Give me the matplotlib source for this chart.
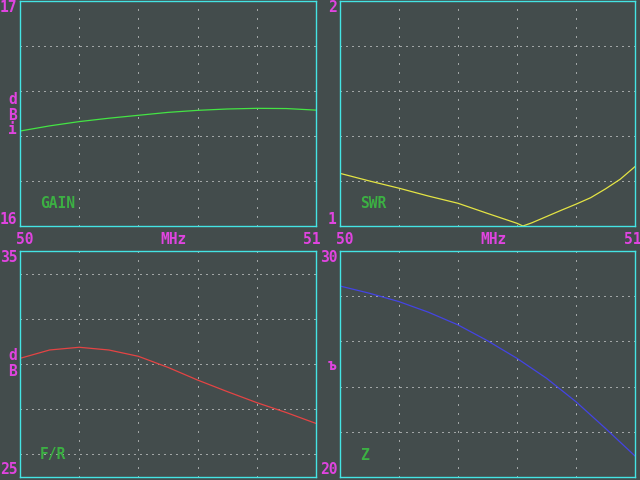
import matplotlib
matplotlib.use('Agg')
import matplotlib.pyplot as plt

# frequency points, MHz
freq = [50.0, 50.1, 50.2, 50.3, 50.4, 50.5, 50.6, 50.7, 50.8, 50.9, 51.0]
gain = [16.422, 16.445, 16.464, 16.479, 16.492, 16.505, 16.514, 16.520, 16.523, 16.522, 16.515]
fr = [30.25, 30.62, 30.74, 30.62, 30.34, 29.85, 29.29, 28.78, 28.29, 27.85, 27.37]
z = [28.45, 28.13, 27.76, 27.29, 26.73, 26.03, 25.25, 24.37, 23.33, 22.15, 20.93]

swr_freq = [50.0, 50.1, 50.2, 50.3, 50.4, 50.5, 50.6, 50.62, 50.65, 50.7, 50.75,
            50.8, 50.85, 50.9, 50.95, 51.0]
swr = [1.234, 1.200, 1.168, 1.133, 1.101, 1.056, 1.012, 1.000, 1.014, 1.042, 1.070,
       1.097, 1.126, 1.165, 1.208, 1.264]

bg = '#434c4c'
cyan = '#44e4e4'
magenta = '#e044e0'
label_green = '#3cb043'
font = 'DejaVu Sans Mono'
fs = 10.5

fig = plt.figure(figsize=(6.4, 4.8), dpi=100, facecolor=bg)


def px(x, y):
    return x / 640, 1 - y / 480


def panel(x0, y0, x1, y1, yticks, ylim):
    ax = fig.add_axes([x0 / 640, 1 - y1 / 480, (x1 - x0) / 640, (y1 - y0) / 480])
    ax.set_facecolor(bg)
    for s in ax.spines.values():
        s.set_color(cyan)
        s.set_linewidth(1.0)
    ax.set_xlim(50, 51)
    ax.set_ylim(*ylim)
    ax.set_xticks([50.2, 50.4, 50.6, 50.8])
    ax.set_yticks(yticks)
    ax.tick_params(length=0, labelleft=False, labelbottom=False)
    ax.xaxis.grid(True, color='white', linewidth=0.72, linestyle=(0, (1, 8)))
    ax.yaxis.grid(True, color='white', linewidth=0.72, linestyle=(0, (1, 5)))
    return ax


ax1 = panel(20, 1, 316, 226, [16.2, 16.4, 16.6, 16.8], (16, 17))
ax1.plot(freq, gain, color='#44e444', linewidth=0.9)

ax2 = panel(340, 1, 635, 226, [1.2, 1.4, 1.6, 1.8], (1, 2))
ax2.plot(swr_freq, swr, color='#e4e444', linewidth=0.9)

ax3 = panel(20, 251, 316, 477, [26, 28, 30, 32, 34], (25, 35))
ax3.plot(freq, fr, color='#e44444', linewidth=0.9)

ax4 = panel(340, 251, 635, 477, [22, 24, 26, 28], (20, 30))
ax4.plot(freq, z, color='#4444e4', linewidth=0.9)

magenta_texts = [
    (0, 7, '17'), (0, 219, '16'), (8, 99, 'd'), (8, 115, 'B'), (8, 130, 'i'),
    (16, 239, '50'), (160, 239, 'MHz'), (303, 239, '51'),
    (328, 7, '2'), (328, 219, '1'),
    (336, 239, '50'), (480, 239, 'MHz'), (624, 239, '51'),
    (0, 257, '35'), (0, 470, '25'), (8, 356, 'd'), (8, 372, 'B'),
    (320, 258, '30'), (320, 470, '20'), (328, 365, 'ъ'),
]
for x, y, t in magenta_texts:
    fig.text(*px(x, y), t, color=magenta, family=font, fontsize=fs,
             fontweight='bold', ha='left', va='center')

green_texts = [(40, 203, 'GAIN'), (360, 203, 'SWR'), (40, 454, 'F/R'), (360, 455, 'Z')]
for x, y, t in green_texts:
    fig.text(*px(x, y), t, color=label_green, family=font, fontsize=fs,
             fontweight='bold', ha='left', va='center')

fig.savefig('out.png', dpi=100, facecolor=bg)
